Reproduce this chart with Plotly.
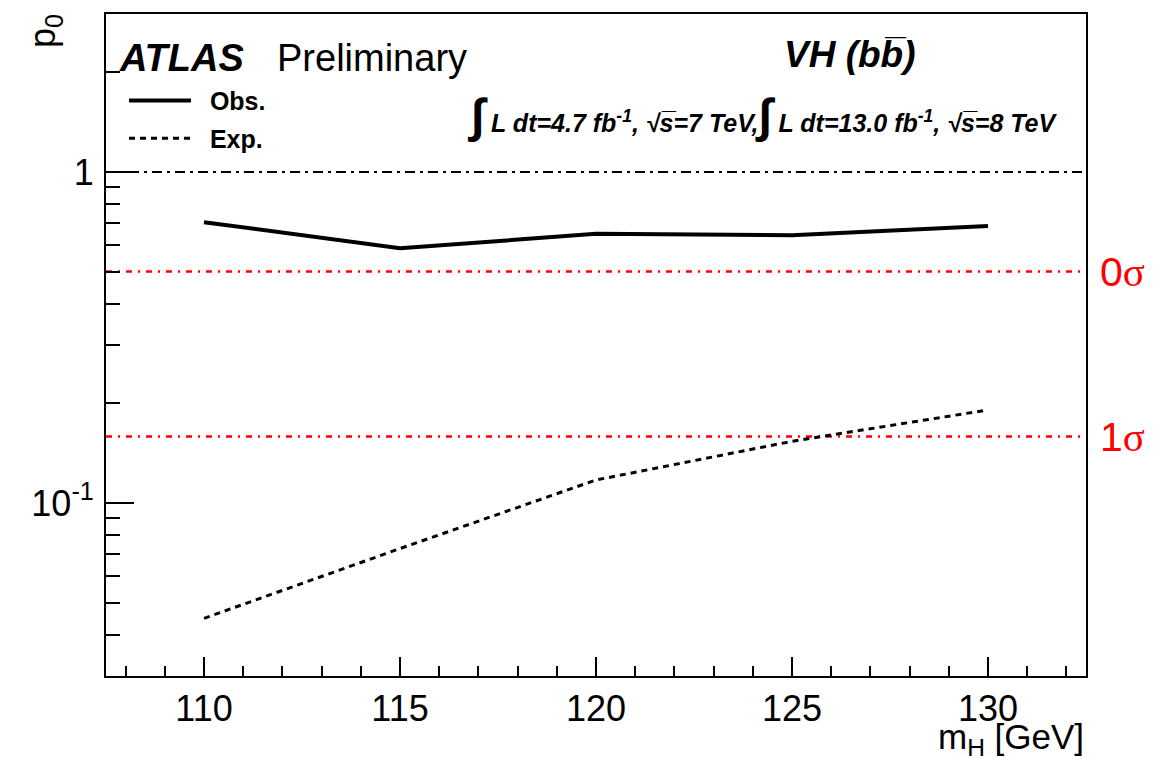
import numpy as np
import plotly.graph_objects as go

# ---- data ----
mass = [110, 115, 120, 125, 130]
p0_obs = [0.705, 0.588, 0.650, 0.644, 0.687]
p0_exp = [0.0448, 0.0728, 0.1173, 0.1535, 0.191]

sigma_labels = ["0", "1"]
sigma_p0 = [0.5, 0.1587]
unity = [1.0]

x_ticks = [110, 115, 120, 125, 130]
y_ticks = [0.1, 1]
y_ticktext = ["10<sup>-1</sup>", "1"]
y_minor = [0.03, 0.04, 0.05, 0.06, 0.07, 0.08, 0.09,
           0.2, 0.3, 0.4, 0.5, 0.6, 0.7, 0.8, 0.9, 2, 3]

FONT = "Liberation Sans"
L, R, T, B = 106, 76, 12, 82
W, H = 1162, 758
PW, PH = W - L - R, H - T - B


def px(xp):
    return (xp - L) / PW


def py(yp):
    return (H - B - yp) / PH


fig = go.Figure()
fig.add_trace(go.Scatter(x=mass, y=p0_obs, mode="lines", name="\u00a0\u00a0<b>Obs.</b>",
                         line=dict(color="black", width=4), legend="legend"))
fig.add_trace(go.Scatter(x=mass, y=p0_exp, mode="lines", name="\u00a0\u00a0<b>Exp.</b>",
                         line=dict(color="black", width=3, dash="6px,5px"), legend="legend2"))

for v in unity:
    fig.add_hline(y=v, line=dict(color="black", width=2, dash="10px,5px,3px,5px"), layer="below")
for v, lab in zip(sigma_p0, sigma_labels):
    fig.add_hline(y=v, line=dict(color="red", width=2.5, dash="6px,6px,2px,6px"), layer="below")
    fig.add_annotation(x=px(1098), y=np.log10(v), xref="paper", yref="y",
                       text=lab + "<span style='font-family:Liberation Serif'>σ</span>", showarrow=False,
                       xanchor="left", yanchor="middle",
                       font=dict(family=FONT, size=41, color="red"))

ann = dict(showarrow=False, xref="paper", yref="paper")
fig.add_annotation(x=px(117), y=py(56), text="<b><i>ATLAS</i></b>", xanchor="left", yanchor="middle",
                   font=dict(family=FONT, size=38, color="black"), **ann)
fig.add_annotation(x=px(275), y=py(56), text="Preliminary", xanchor="left", yanchor="middle",
                   font=dict(family=FONT, size=38, color="black"), **ann)
fig.add_annotation(x=px(782), y=py(53), text="<b><i>VH (bb\u0305)</i></b>", xanchor="left", yanchor="middle",
                   font=dict(family=FONT, size=37, color="black"), **ann)
lumi = ("<b><i><span style='font-size:48px'>∫</span> L dt=4.7 fb<sup>-1</sup>, √s\u0305=7 TeV,"
        "<span style='font-size:48px'>∫</span> L dt=13.0 fb<sup>-1</sup>, √s\u0305=8 TeV</i></b>")
fig.add_annotation(x=px(465), y=py(114), text=lumi, xanchor="left", yanchor="middle",
                   font=dict(family=FONT, size=25, color="black"), **ann)
fig.add_annotation(x=px(45), y=py(10), text="p<sub>0</sub>", textangle=-90, xanchor="center", yanchor="top",
                   font=dict(family=FONT, size=36, color="black"), **ann)
fig.add_annotation(x=px(1086), y=py(739), text="m<sub>H</sub> [GeV]", xanchor="right", yanchor="middle",
                   font=dict(family=FONT, size=35, color="black"), **ann)

axis_common = dict(showline=True, linecolor="black", linewidth=2, mirror=True,
                   ticks="inside", tickcolor="black", tickwidth=2, showgrid=False, zeroline=False,
                   tickfont=dict(family=FONT, size=36, color="black"))
fig.update_xaxes(range=[107.5, 132.5], tickmode="array", tickvals=x_ticks, ticklen=19,
                 minor=dict(ticks="inside", ticklen=10, tickcolor="black", tickwidth=2, dtick=1, tick0=110,
                            showgrid=False),
                 **axis_common)
fig.update_yaxes(type="log", range=[np.log10(0.03), np.log10(3)], tickmode="array",
                 tickvals=y_ticks, ticktext=y_ticktext, ticklen=28,
                 ticklabelstandoff=3,
                 minor=dict(ticks="inside", ticklen=14, tickcolor="black", tickwidth=2,
                            tickmode="array", tickvals=y_minor, showgrid=False),
                 **axis_common)

legend_common = dict(bgcolor="rgba(0,0,0,0)", xanchor="left", yanchor="middle", itemwidth=62,
                     font=dict(family=FONT, size=25, color="black"), tracegroupgap=0)
fig.update_layout(
    width=W, height=H,
    margin=dict(l=L, r=R, t=T, b=B),
    paper_bgcolor="white", plot_bgcolor="white",
    showlegend=True,
    legend=dict(x=px(124), y=py(99), **legend_common),
    legend2=dict(x=px(124), y=py(137), **legend_common),
)

fig.write_html("out.html")
